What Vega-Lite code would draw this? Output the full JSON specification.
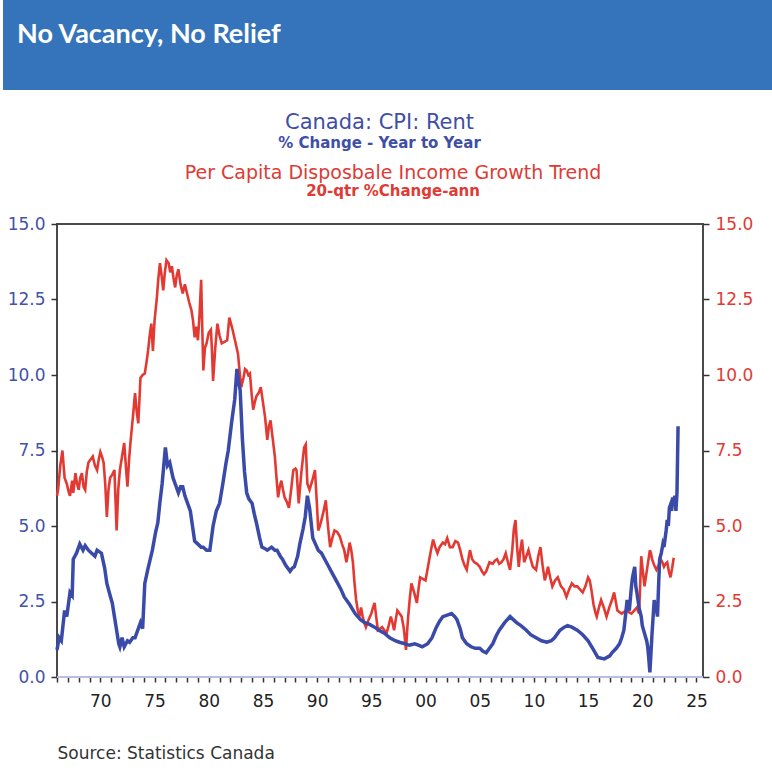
{
"$schema": "https://vega.github.io/schema/vega-lite/v6.json",
"padding": {"left": 3, "top": 0, "right": 0, "bottom": 0},
"background": "white",
"config": {"font": "DejaVu Sans"},
"spacing": 12,
"datasets": {
"rent": [
{"year":1966.0,"value":0.9},{"year":1966.2,"value":1.3},{"year":1966.4,"value":1.2},{"year":1966.7,"value":2.2},{"year":1966.9,"value":2.0},{"year":1967.2,"value":2.8},{"year":1967.4,"value":2.7},{"year":1967.5,"value":3.9},{"year":1967.8,"value":4.1},{"year":1968.1,"value":4.4},{"year":1968.4,"value":4.2},{"year":1968.6,"value":4.35},{"year":1968.9,"value":4.2},{"year":1969.2,"value":4.1},{"year":1969.5,"value":4.0},{"year":1969.7,"value":4.2},{"year":1970.1,"value":4.1},{"year":1970.4,"value":3.6},{"year":1970.6,"value":3.1},{"year":1970.9,"value":2.7},{"year":1971.1,"value":2.45},{"year":1971.3,"value":2.0},{"year":1971.5,"value":1.55},{"year":1971.7,"value":1.1},{"year":1971.8,"value":1.0},{"year":1972.0,"value":1.3},{"year":1972.2,"value":1.0},{"year":1972.5,"value":1.2},{"year":1972.7,"value":1.15},{"year":1973.0,"value":1.3},{"year":1973.2,"value":1.3},{"year":1973.5,"value":1.6},{"year":1973.7,"value":1.8},{"year":1973.9,"value":1.6},{"year":1974.1,"value":3.1},{"year":1974.4,"value":3.6},{"year":1974.8,"value":4.2},{"year":1975.1,"value":4.8},{"year":1975.3,"value":5.1},{"year":1975.5,"value":5.8},{"year":1975.7,"value":6.4},{"year":1975.9,"value":7.2},{"year":1976.0,"value":7.6},{"year":1976.2,"value":7.0},{"year":1976.4,"value":7.1},{"year":1976.7,"value":6.6},{"year":1976.9,"value":6.4},{"year":1977.2,"value":6.1},{"year":1977.4,"value":6.3},{"year":1977.6,"value":6.3},{"year":1977.8,"value":6.0},{"year":1978.0,"value":5.8},{"year":1978.3,"value":5.5},{"year":1978.5,"value":5.0},{"year":1978.7,"value":4.5},{"year":1979.0,"value":4.4},{"year":1979.3,"value":4.3},{"year":1979.5,"value":4.3},{"year":1979.8,"value":4.2},{"year":1980.1,"value":4.2},{"year":1980.4,"value":5.0},{"year":1980.7,"value":5.5},{"year":1981.0,"value":5.75},{"year":1981.3,"value":6.4},{"year":1981.6,"value":7.1},{"year":1981.8,"value":7.5},{"year":1982.1,"value":8.4},{"year":1982.4,"value":9.2},{"year":1982.6,"value":10.2},{"year":1982.75,"value":9.8},{"year":1982.9,"value":9.5},{"year":1983.1,"value":7.9},{"year":1983.3,"value":6.8},{"year":1983.5,"value":6.1},{"year":1983.7,"value":5.9},{"year":1984.0,"value":5.75},{"year":1984.2,"value":5.4},{"year":1984.4,"value":5.1},{"year":1984.7,"value":4.6},{"year":1984.9,"value":4.3},{"year":1985.2,"value":4.25},{"year":1985.4,"value":4.2},{"year":1985.8,"value":4.3},{"year":1986.1,"value":4.2},{"year":1986.3,"value":4.2},{"year":1986.6,"value":4.0},{"year":1986.8,"value":3.9},{"year":1987.1,"value":3.7},{"year":1987.5,"value":3.5},{"year":1987.7,"value":3.6},{"year":1987.9,"value":3.65},{"year":1988.2,"value":4.0},{"year":1988.4,"value":4.4},{"year":1988.7,"value":4.9},{"year":1988.9,"value":5.3},{"year":1989.1,"value":6.0},{"year":1989.3,"value":5.6},{"year":1989.6,"value":4.6},{"year":1989.85,"value":4.4},{"year":1990.1,"value":4.2},{"year":1990.4,"value":4.1},{"year":1990.7,"value":3.9},{"year":1991.0,"value":3.7},{"year":1991.3,"value":3.5},{"year":1991.6,"value":3.3},{"year":1991.9,"value":3.1},{"year":1992.2,"value":2.9},{"year":1992.5,"value":2.65},{"year":1993.0,"value":2.4},{"year":1993.5,"value":2.1},{"year":1994.0,"value":1.9},{"year":1994.4,"value":1.8},{"year":1994.8,"value":1.75},{"year":1995.3,"value":1.65},{"year":1995.7,"value":1.55},{"year":1996.2,"value":1.45},{"year":1996.7,"value":1.3},{"year":1997.2,"value":1.2},{"year":1997.6,"value":1.15},{"year":1998.1,"value":1.1},{"year":1998.5,"value":1.05},{"year":1999.0,"value":1.1},{"year":1999.4,"value":1.05},{"year":1999.7,"value":1.0},{"year":2000.2,"value":1.1},{"year":2000.6,"value":1.3},{"year":2001.0,"value":1.65},{"year":2001.3,"value":1.85},{"year":2001.6,"value":2.0},{"year":2002.0,"value":2.05},{"year":2002.4,"value":2.1},{"year":2002.7,"value":2.0},{"year":2002.9,"value":1.9},{"year":2003.2,"value":1.6},{"year":2003.4,"value":1.3},{"year":2003.8,"value":1.1},{"year":2004.2,"value":1.0},{"year":2004.6,"value":0.95},{"year":2005.0,"value":0.95},{"year":2005.3,"value":0.85},{"year":2005.6,"value":0.8},{"year":2005.9,"value":0.95},{"year":2006.2,"value":1.1},{"year":2006.5,"value":1.35},{"year":2006.8,"value":1.55},{"year":2007.3,"value":1.8},{"year":2007.8,"value":2.0},{"year":2008.1,"value":1.9},{"year":2008.4,"value":1.8},{"year":2008.8,"value":1.7},{"year":2009.3,"value":1.55},{"year":2009.7,"value":1.4},{"year":2010.2,"value":1.3},{"year":2010.7,"value":1.2},{"year":2011.2,"value":1.15},{"year":2011.6,"value":1.2},{"year":2011.9,"value":1.3},{"year":2012.4,"value":1.55},{"year":2012.8,"value":1.65},{"year":2013.1,"value":1.7},{"year":2013.5,"value":1.65},{"year":2014.0,"value":1.55},{"year":2014.5,"value":1.4},{"year":2015.0,"value":1.2},{"year":2015.5,"value":0.9},{"year":2015.9,"value":0.65},{"year":2016.5,"value":0.6},{"year":2017.0,"value":0.7},{"year":2017.2,"value":0.8},{"year":2017.6,"value":0.95},{"year":2017.9,"value":1.1},{"year":2018.1,"value":1.3},{"year":2018.3,"value":1.55},{"year":2018.5,"value":2.2},{"year":2018.6,"value":2.55},{"year":2018.8,"value":2.2},{"year":2019.0,"value":3.0},{"year":2019.1,"value":3.3},{"year":2019.3,"value":3.65},{"year":2019.4,"value":3.0},{"year":2019.5,"value":2.8},{"year":2019.7,"value":2.3},{"year":2019.9,"value":2.0},{"year":2020.0,"value":1.7},{"year":2020.2,"value":1.45},{"year":2020.4,"value":1.2},{"year":2020.5,"value":1.0},{"year":2020.6,"value":0.6},{"year":2020.7,"value":0.15},{"year":2020.8,"value":0.8},{"year":2020.9,"value":1.45},{"year":2021.0,"value":2.0},{"year":2021.1,"value":2.55},{"year":2021.2,"value":2.2},{"year":2021.3,"value":2.3},{"year":2021.4,"value":2.0},{"year":2021.5,"value":3.0},{"year":2021.6,"value":3.9},{"year":2021.75,"value":4.1},{"year":2021.9,"value":4.4},{"year":2022.0,"value":4.3},{"year":2022.2,"value":4.85},{"year":2022.3,"value":5.2},{"year":2022.4,"value":5.0},{"year":2022.5,"value":5.6},{"year":2022.6,"value":5.7},{"year":2022.7,"value":5.5},{"year":2022.8,"value":5.95},{"year":2022.9,"value":5.7},{"year":2023.0,"value":6.0},{"year":2023.1,"value":5.5},{"year":2023.2,"value":6.1},{"year":2023.3,"value":8.3}
],
"income": [
{"year":1966.0,"value":6.0},{"year":1966.1,"value":6.2},{"year":1966.3,"value":7.0},{"year":1966.5,"value":7.5},{"year":1966.7,"value":6.6},{"year":1966.9,"value":6.4},{"year":1967.1,"value":6.1},{"year":1967.2,"value":6.0},{"year":1967.4,"value":6.5},{"year":1967.5,"value":6.1},{"year":1967.7,"value":6.75},{"year":1967.85,"value":6.4},{"year":1968.0,"value":6.2},{"year":1968.15,"value":6.6},{"year":1968.3,"value":6.75},{"year":1968.45,"value":6.3},{"year":1968.6,"value":6.2},{"year":1968.75,"value":6.8},{"year":1968.9,"value":7.1},{"year":1969.1,"value":7.2},{"year":1969.3,"value":7.3},{"year":1969.5,"value":7.0},{"year":1969.7,"value":6.85},{"year":1969.85,"value":7.2},{"year":1970.0,"value":7.45},{"year":1970.15,"value":7.3},{"year":1970.3,"value":7.1},{"year":1970.45,"value":6.4},{"year":1970.6,"value":5.3},{"year":1970.75,"value":6.2},{"year":1970.9,"value":6.6},{"year":1971.1,"value":6.7},{"year":1971.3,"value":6.85},{"year":1971.5,"value":4.85},{"year":1971.65,"value":6.2},{"year":1971.8,"value":6.85},{"year":1972.0,"value":7.3},{"year":1972.2,"value":7.75},{"year":1972.35,"value":7.0},{"year":1972.5,"value":6.3},{"year":1972.65,"value":7.2},{"year":1972.8,"value":7.85},{"year":1973.0,"value":8.6},{"year":1973.2,"value":9.4},{"year":1973.35,"value":8.8},{"year":1973.5,"value":8.4},{"year":1973.7,"value":9.9},{"year":1973.9,"value":10.0},{"year":1974.1,"value":10.05},{"year":1974.25,"value":10.4},{"year":1974.4,"value":10.8},{"year":1974.55,"value":11.3},{"year":1974.7,"value":11.7},{"year":1974.85,"value":10.8},{"year":1975.0,"value":11.8},{"year":1975.2,"value":12.5},{"year":1975.35,"value":13.2},{"year":1975.5,"value":13.7},{"year":1975.65,"value":13.3},{"year":1975.8,"value":12.8},{"year":1975.95,"value":13.4},{"year":1976.1,"value":13.8},{"year":1976.3,"value":13.7},{"year":1976.45,"value":13.4},{"year":1976.6,"value":13.6},{"year":1976.75,"value":13.2},{"year":1976.9,"value":12.9},{"year":1977.05,"value":13.3},{"year":1977.2,"value":13.5},{"year":1977.4,"value":13.0},{"year":1977.6,"value":12.7},{"year":1977.8,"value":13.0},{"year":1978.0,"value":12.7},{"year":1978.2,"value":12.4},{"year":1978.4,"value":12.15},{"year":1978.55,"value":11.8},{"year":1978.7,"value":11.25},{"year":1978.85,"value":11.6},{"year":1979.0,"value":11.15},{"year":1979.15,"value":12.0},{"year":1979.3,"value":13.15},{"year":1979.4,"value":11.6},{"year":1979.5,"value":10.15},{"year":1979.65,"value":10.9},{"year":1979.8,"value":11.05},{"year":1980.0,"value":11.4},{"year":1980.2,"value":11.5},{"year":1980.3,"value":10.8},{"year":1980.4,"value":9.8},{"year":1980.6,"value":10.9},{"year":1980.8,"value":11.7},{"year":1981.0,"value":11.3},{"year":1981.2,"value":11.05},{"year":1981.45,"value":11.1},{"year":1981.7,"value":11.15},{"year":1981.9,"value":11.9},{"year":1982.05,"value":11.7},{"year":1982.2,"value":11.5},{"year":1982.45,"value":11.1},{"year":1982.7,"value":10.7},{"year":1982.85,"value":10.1},{"year":1983.0,"value":9.6},{"year":1983.2,"value":9.9},{"year":1983.35,"value":10.2},{"year":1983.5,"value":10.15},{"year":1983.65,"value":10.0},{"year":1983.8,"value":10.05},{"year":1983.95,"value":9.4},{"year":1984.1,"value":8.85},{"year":1984.25,"value":9.1},{"year":1984.4,"value":9.3},{"year":1984.6,"value":9.4},{"year":1984.8,"value":9.6},{"year":1985.0,"value":9.1},{"year":1985.2,"value":8.6},{"year":1985.4,"value":7.85},{"year":1985.55,"value":8.3},{"year":1985.7,"value":8.5},{"year":1985.9,"value":7.9},{"year":1986.1,"value":7.3},{"year":1986.25,"value":6.6},{"year":1986.4,"value":5.95},{"year":1986.55,"value":6.3},{"year":1986.7,"value":6.5},{"year":1986.85,"value":6.2},{"year":1987.0,"value":5.95},{"year":1987.2,"value":5.8},{"year":1987.4,"value":5.6},{"year":1987.6,"value":6.2},{"year":1987.8,"value":6.85},{"year":1988.0,"value":6.9},{"year":1988.1,"value":6.85},{"year":1988.3,"value":5.75},{"year":1988.55,"value":6.8},{"year":1988.8,"value":7.6},{"year":1988.95,"value":7.7},{"year":1989.1,"value":6.4},{"year":1989.3,"value":6.2},{"year":1989.55,"value":6.5},{"year":1989.8,"value":6.85},{"year":1990.0,"value":5.6},{"year":1990.1,"value":4.85},{"year":1990.25,"value":5.0},{"year":1990.4,"value":5.2},{"year":1990.6,"value":5.5},{"year":1990.8,"value":5.85},{"year":1991.0,"value":5.0},{"year":1991.2,"value":4.3},{"year":1991.4,"value":4.6},{"year":1991.6,"value":4.85},{"year":1991.85,"value":4.8},{"year":1992.1,"value":4.65},{"year":1992.3,"value":4.4},{"year":1992.5,"value":4.2},{"year":1992.7,"value":3.8},{"year":1992.85,"value":4.1},{"year":1993.0,"value":4.45},{"year":1993.15,"value":4.2},{"year":1993.3,"value":3.8},{"year":1993.45,"value":3.1},{"year":1993.6,"value":2.55},{"year":1993.75,"value":2.2},{"year":1993.9,"value":2.0},{"year":1994.05,"value":2.3},{"year":1994.2,"value":2.0},{"year":1994.35,"value":1.8},{"year":1994.5,"value":1.65},{"year":1994.75,"value":1.9},{"year":1995.0,"value":2.1},{"year":1995.15,"value":2.3},{"year":1995.3,"value":2.45},{"year":1995.45,"value":2.0},{"year":1995.6,"value":1.55},{"year":1995.8,"value":1.6},{"year":1996.0,"value":1.65},{"year":1996.2,"value":1.55},{"year":1996.4,"value":1.45},{"year":1996.6,"value":1.7},{"year":1996.8,"value":2.0},{"year":1996.95,"value":1.8},{"year":1997.1,"value":1.55},{"year":1997.25,"value":1.9},{"year":1997.4,"value":2.2},{"year":1997.6,"value":2.1},{"year":1997.8,"value":2.0},{"year":1998.0,"value":1.6},{"year":1998.2,"value":0.9},{"year":1998.3,"value":1.5},{"year":1998.4,"value":2.0},{"year":1998.55,"value":2.6},{"year":1998.7,"value":3.1},{"year":1998.95,"value":2.8},{"year":1999.2,"value":2.45},{"year":1999.35,"value":2.9},{"year":1999.5,"value":3.3},{"year":1999.75,"value":3.25},{"year":2000.0,"value":3.2},{"year":2000.15,"value":3.5},{"year":2000.3,"value":3.8},{"year":2000.5,"value":4.2},{"year":2000.7,"value":4.55},{"year":2000.9,"value":4.3},{"year":2001.1,"value":4.1},{"year":2001.3,"value":4.3},{"year":2001.6,"value":4.45},{"year":2001.8,"value":4.4},{"year":2002.0,"value":4.6},{"year":2002.25,"value":4.3},{"year":2002.5,"value":4.3},{"year":2002.75,"value":4.5},{"year":2003.0,"value":4.45},{"year":2003.2,"value":4.2},{"year":2003.4,"value":3.9},{"year":2003.6,"value":3.7},{"year":2003.8,"value":3.55},{"year":2004.0,"value":4.0},{"year":2004.1,"value":4.2},{"year":2004.3,"value":3.9},{"year":2004.5,"value":3.8},{"year":2004.75,"value":3.75},{"year":2005.0,"value":3.65},{"year":2005.2,"value":3.5},{"year":2005.4,"value":3.4},{"year":2005.6,"value":3.5},{"year":2005.9,"value":3.8},{"year":2006.2,"value":3.75},{"year":2006.4,"value":3.85},{"year":2006.6,"value":3.9},{"year":2006.8,"value":3.75},{"year":2007.0,"value":3.8},{"year":2007.2,"value":3.9},{"year":2007.4,"value":4.1},{"year":2007.6,"value":3.8},{"year":2007.8,"value":3.55},{"year":2008.0,"value":4.2},{"year":2008.15,"value":4.9},{"year":2008.3,"value":5.2},{"year":2008.45,"value":4.3},{"year":2008.6,"value":3.65},{"year":2008.75,"value":4.2},{"year":2008.9,"value":4.55},{"year":2009.1,"value":3.8},{"year":2009.3,"value":4.0},{"year":2009.5,"value":4.2},{"year":2009.7,"value":3.9},{"year":2009.9,"value":3.65},{"year":2010.05,"value":3.6},{"year":2010.2,"value":3.55},{"year":2010.4,"value":4.0},{"year":2010.6,"value":4.3},{"year":2010.8,"value":3.7},{"year":2011.0,"value":3.2},{"year":2011.15,"value":3.4},{"year":2011.3,"value":3.65},{"year":2011.5,"value":3.3},{"year":2011.7,"value":3.0},{"year":2011.95,"value":3.2},{"year":2012.2,"value":3.3},{"year":2012.5,"value":3.0},{"year":2012.75,"value":2.9},{"year":2013.0,"value":2.65},{"year":2013.25,"value":2.9},{"year":2013.5,"value":3.1},{"year":2013.75,"value":3.0},{"year":2014.0,"value":3.0},{"year":2014.25,"value":2.9},{"year":2014.5,"value":2.8},{"year":2014.75,"value":3.0},{"year":2015.0,"value":3.3},{"year":2015.15,"value":3.2},{"year":2015.3,"value":2.9},{"year":2015.5,"value":2.4},{"year":2015.7,"value":2.1},{"year":2015.8,"value":2.0},{"year":2016.0,"value":2.3},{"year":2016.2,"value":2.55},{"year":2016.45,"value":2.3},{"year":2016.7,"value":2.0},{"year":2016.95,"value":2.3},{"year":2017.2,"value":2.55},{"year":2017.4,"value":2.8},{"year":2017.55,"value":2.5},{"year":2017.7,"value":2.2},{"year":2017.9,"value":2.15},{"year":2018.1,"value":2.1},{"year":2018.3,"value":2.15},{"year":2018.5,"value":2.2},{"year":2018.75,"value":2.15},{"year":2019.0,"value":2.1},{"year":2019.25,"value":2.2},{"year":2019.5,"value":2.3},{"year":2019.7,"value":2.1},{"year":2019.8,"value":3.0},{"year":2019.9,"value":4.0},{"year":2020.05,"value":3.5},{"year":2020.2,"value":3.0},{"year":2020.45,"value":3.6},{"year":2020.7,"value":4.2},{"year":2020.8,"value":4.1},{"year":2020.9,"value":3.9},{"year":2021.1,"value":3.7},{"year":2021.3,"value":3.55},{"year":2021.5,"value":3.7},{"year":2021.7,"value":3.9},{"year":2021.85,"value":3.8},{"year":2022.0,"value":3.65},{"year":2022.15,"value":3.75},{"year":2022.3,"value":3.8},{"year":2022.45,"value":3.5},{"year":2022.6,"value":3.3},{"year":2022.75,"value":3.6},{"year":2022.9,"value":3.95}
],
"header": [{"label": "No Vacancy, No Relief"}]
},
"vconcat": [
{
"width": 769,
"height": 90,
"view": {"fill": "#3574BA", "stroke": null},
"title": {"text": "Canada: CPI: Rent", "subtitle": "% Change - Year to Year", "orient": "bottom", "anchor": "middle", "dx": -8, "color": "#3F4FA6", "fontSize": 21, "fontWeight": "normal", "subtitleColor": "#3F4FA6", "subtitleFontSize": 15, "subtitleFontWeight": "bold", "subtitlePadding": 3, "offset": 22},
"data": {"name": "header"},
"mark": {"type": "text", "font": "Lato", "fontWeight": "bold", "fontSize": 27, "color": "white", "align": "left", "baseline": "middle"},
"encoding": {"text": {"field": "label", "type": "nominal"}, "x": {"value": 14}, "y": {"value": 35}}
},
{
"spacing": 2,
"hconcat": [
{
"width": 1,
"height": 1,
"view": {"stroke": null},
"data": {"values": []},
"mark": "point"
},
{
"width": 646,
"height": 453,
"title": {"text": "Per Capita Disposbale Income Growth Trend", "subtitle": "20-qtr %Change-ann", "anchor": "middle", "dx": 13, "color": "#E03A34", "fontSize": 19, "fontWeight": "normal", "subtitleColor": "#E03A34", "subtitleFontSize": 15, "subtitleFontWeight": "bold", "subtitlePadding": 1, "offset": 16},
"view": {"stroke": "#4a4a4a", "strokeWidth": 2},
"layer": [
{
"data": {"values": [{"z": 0}]},
"mark": {"type": "rule", "color": "#B9BEE3", "strokeWidth": 2},
"encoding": {"y": {"field": "z", "type": "quantitative", "scale": {"domain": [0, 15], "nice": false}, "axis": null}}
},
{
"data": {"name": "income"},
"mark": {"type": "line", "color": "#E23A33", "strokeWidth": 2.6},
"encoding": {
"x": {"field": "year", "type": "quantitative", "scale": {"domain": [1966, 2025.6], "nice": false, "zero": false}, "axis": {"values": [1966,1967,1968,1969,1970,1971,1972,1973,1974,1975,1976,1977,1978,1979,1980,1981,1982,1983,1984,1985,1986,1987,1988,1989,1990,1991,1992,1993,1994,1995,1996,1997,1998,1999,2000,2001,2002,2003,2004,2005,2006,2007,2008,2009,2010,2011,2012,2013,2014,2015,2016,2017,2018,2019,2020,2021,2022,2023,2024,2025], "labelExpr": "datum.value % 5 == 0 ? slice(toString(datum.value), 2) : ''", "labelOverlap": false, "labelFlush": false, "labelFontSize": 17, "labelColor": "#222222", "tickColor": "#333333", "tickSize": 5, "tickWidth": 1.5, "domain": false, "grid": false, "labelPadding": 11, "title": "Source:  Statistics Canada", "titleAnchor": "start", "titleFontSize": 17, "titleFontWeight": "normal", "titleColor": "#333333", "titlePadding": 36}},
"y": {"field": "value", "type": "quantitative", "scale": {"domain": [0, 15], "nice": false}, "axis": {"orient": "right", "values": [0, 2.5, 5, 7.5, 10, 12.5, 15], "format": ".1f", "labelColor": "#E23A33", "labelFontSize": 17, "tickColor": "#333333", "tickSize": 6, "tickWidth": 1.5, "domain": false, "grid": false, "title": null, "labelPadding": 6}}
}
},
{
"data": {"name": "rent"},
"mark": {"type": "line", "color": "#3A4AA8", "strokeWidth": 3.5},
"encoding": {
"x": {"field": "year", "type": "quantitative", "scale": {"domain": [1966, 2025.6], "nice": false, "zero": false}, "axis": {"values": [1966,1967,1968,1969,1970,1971,1972,1973,1974,1975,1976,1977,1978,1979,1980,1981,1982,1983,1984,1985,1986,1987,1988,1989,1990,1991,1992,1993,1994,1995,1996,1997,1998,1999,2000,2001,2002,2003,2004,2005,2006,2007,2008,2009,2010,2011,2012,2013,2014,2015,2016,2017,2018,2019,2020,2021,2022,2023,2024,2025], "labelExpr": "datum.value % 5 == 0 ? slice(toString(datum.value), 2) : ''", "labelOverlap": false, "labelFlush": false, "labelFontSize": 17, "labelColor": "#222222", "tickColor": "#333333", "tickSize": 5, "tickWidth": 1.5, "domain": false, "grid": false, "labelPadding": 11, "title": "Source:  Statistics Canada", "titleAnchor": "start", "titleFontSize": 17, "titleFontWeight": "normal", "titleColor": "#333333", "titlePadding": 36}},
"y": {"field": "value", "type": "quantitative", "scale": {"domain": [0, 15], "nice": false}, "axis": {"orient": "left", "values": [0, 2.5, 5, 7.5, 10, 12.5, 15], "format": ".1f", "labelColor": "#4452A8", "labelFontSize": 17, "tickColor": "#333333", "tickSize": 6, "tickWidth": 1.5, "domain": false, "grid": false, "title": null, "labelPadding": 6}}
}
}
],
"resolve": {"scale": {"y": "independent"}}
}
]
}
]
}
